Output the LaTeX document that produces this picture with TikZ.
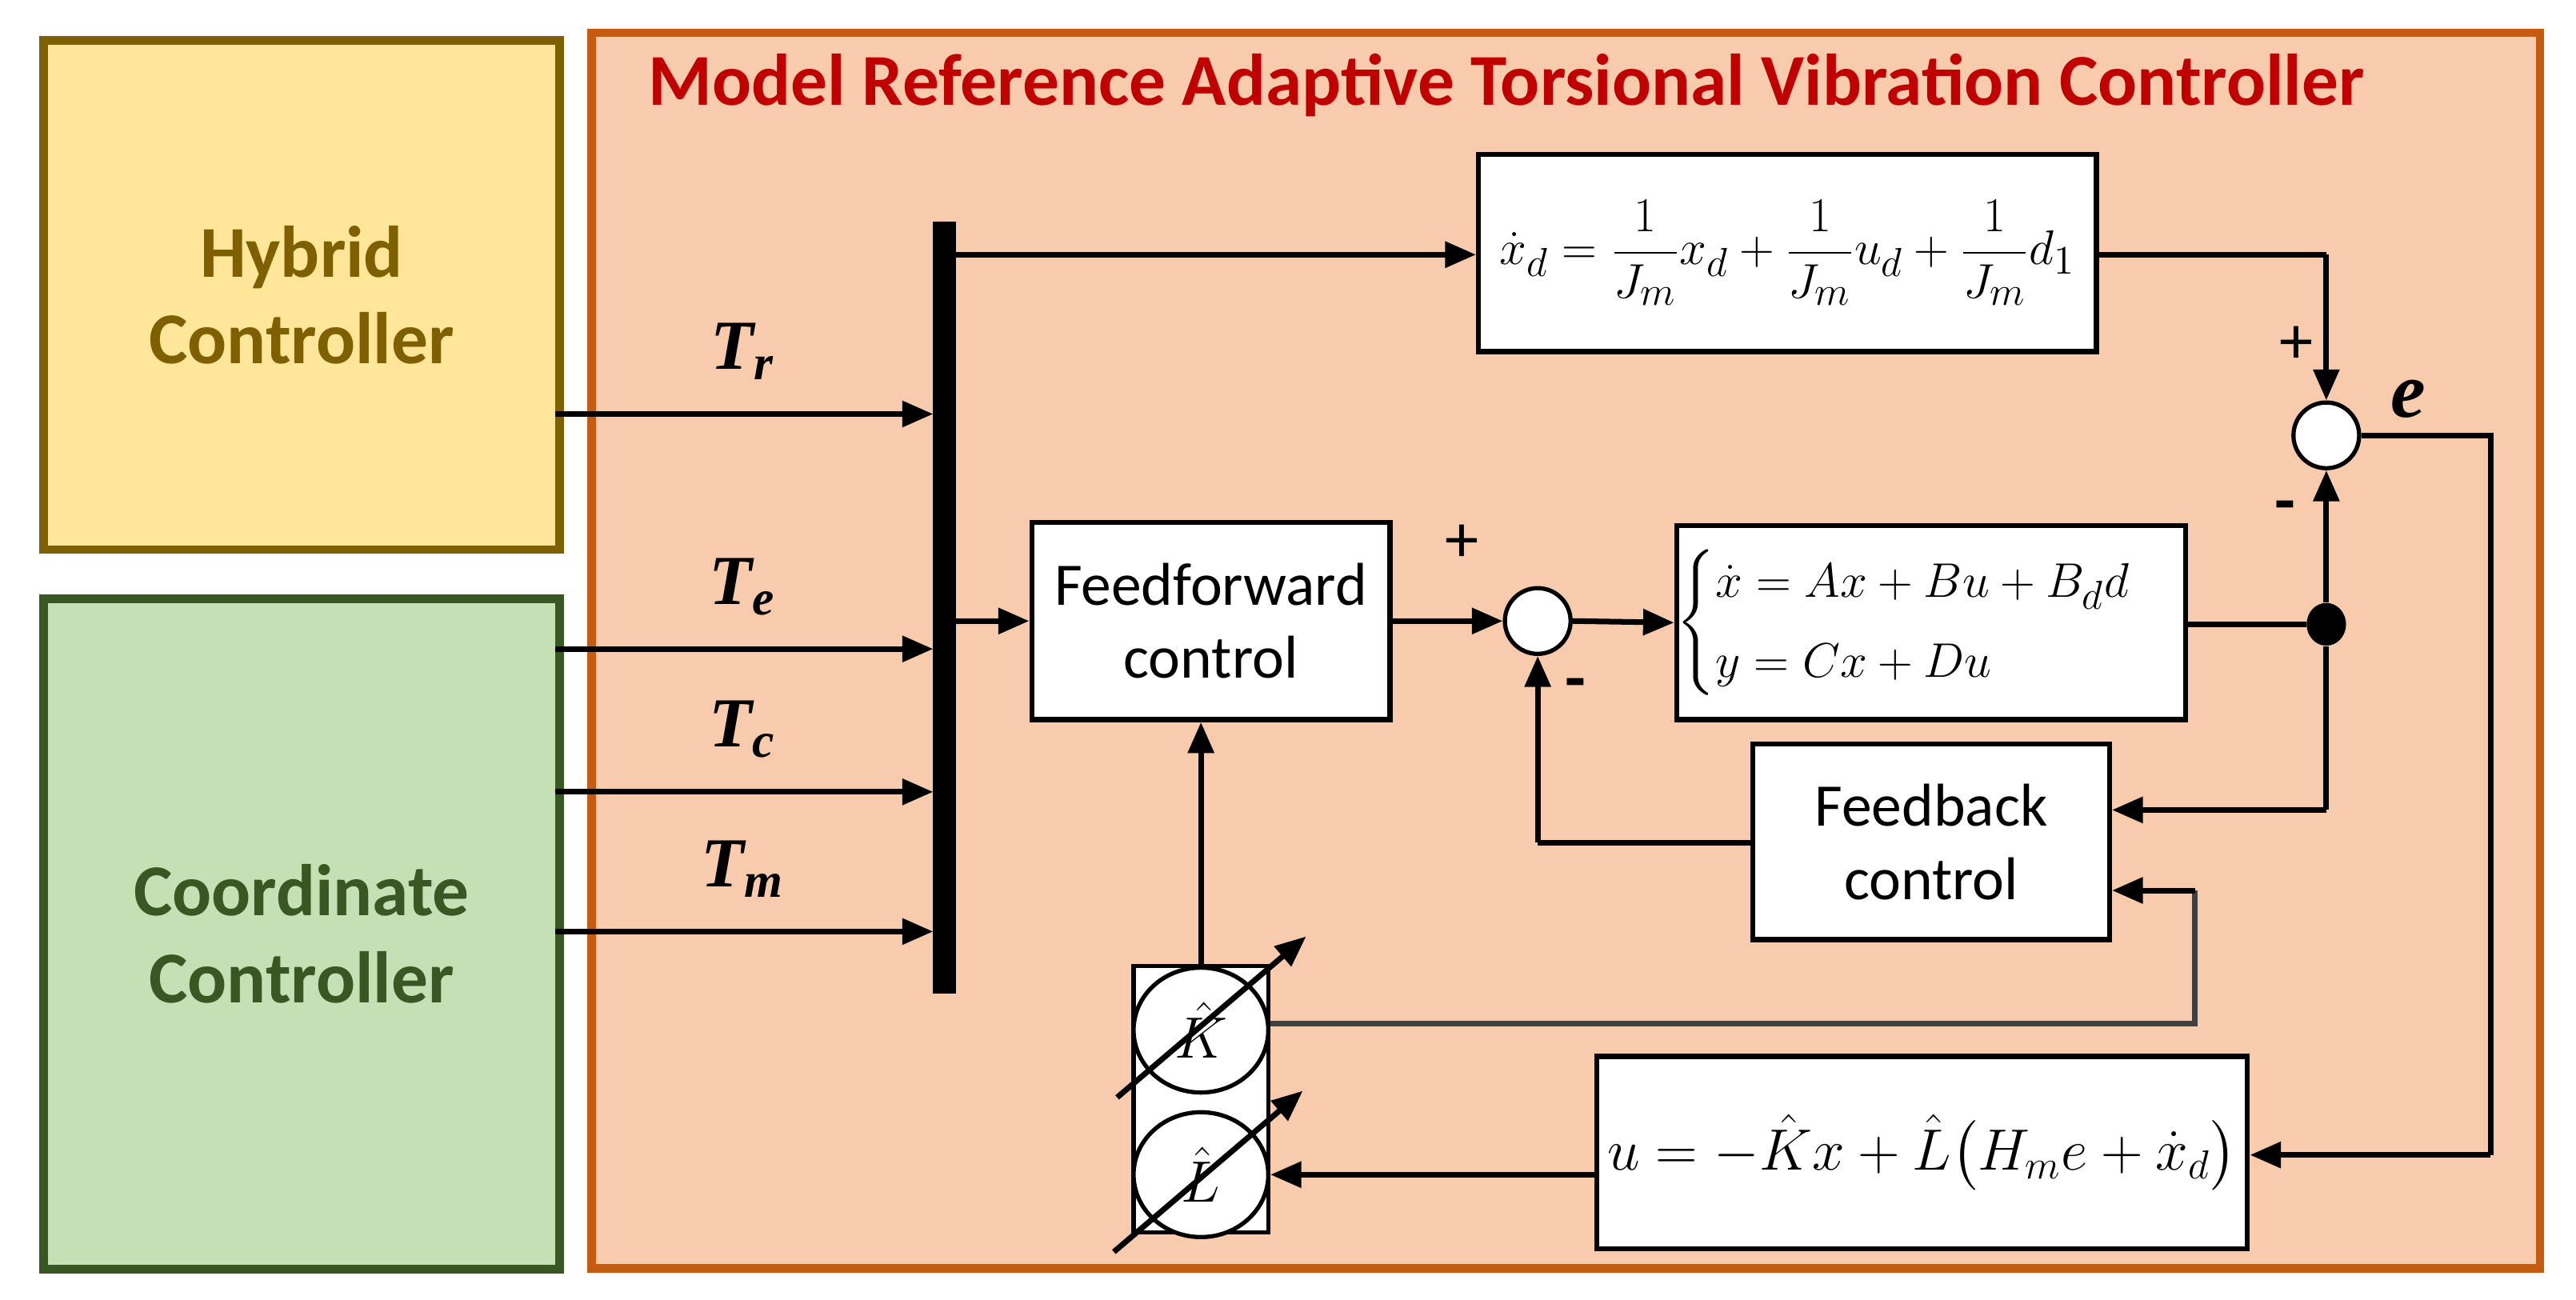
\documentclass[tikz,border=0pt]{standalone}
\usepackage{amsmath}
\usepackage{fontspec}
\setmainfont{Carlito}
\newfontfamily\tnr{Liberation Serif}
\usetikzlibrary{arrows.meta,shapes.geometric}
\definecolor{hyF}{HTML}{FFE699}\definecolor{hyD}{HTML}{7F6000}
\definecolor{coF}{HTML}{C5E0B4}\definecolor{coD}{HTML}{385723}
\definecolor{orF}{HTML}{F8CBAD}\definecolor{orD}{HTML}{C55A11}
\definecolor{ttl}{HTML}{C00000}
\begin{document}
\begin{tikzpicture}[x=0.020536cm,y=-0.020536cm,
  blk/.style={draw=black,line width=1.8pt,fill=white,inner sep=0pt},
  ar/.style={line width=2pt,-{Triangle[length=11pt,width=9pt]}},
  ln/.style={line width=2pt}]
\useasboundingbox (0,0) rectangle (1568,791.3);
\fill[white] (0,0) rectangle (1568,791.3);
% left boxes
\node[draw=hyD,line width=3pt,fill=hyF,minimum width=314*0.020536cm,minimum height=310*0.020536cm,anchor=north west,align=center,text=hyD,font=\fontsize{26}{31}\selectfont\bfseries] (hy) at (24,22) {Hybrid\\Controller};
\node[draw=coD,line width=3pt,fill=coF,minimum width=314*0.020536cm,minimum height=408*0.020536cm,anchor=north west,align=center,text=coD,font=\fontsize{26}{31}\selectfont\bfseries] (co) at (24,362) {Coordinate\\Controller};
% main box
\draw[draw=orD,line width=3pt,fill=orF] (360,20) rectangle (1546,772);
\node[text=ttl,font=\fontsize{26}{30}\selectfont\bfseries] (title) at (917,52) {Model Reference Adaptive Torsional Vibration Controller};
% bus
\node[fill=black,minimum width=14*0.020536cm,minimum height=470*0.020536cm,inner sep=0pt] (bus) at (575,370) {};
% inputs
\foreach \yy/\nm/\lb in {252/r/{r},395/e/{e},482/c/{c},567/m/{m}}{
  \coordinate (s\nm) at (338,\yy);
  \coordinate (b\nm) at (568,\yy);
  \draw[ar] (s\nm) -- (b\nm);
  \node[font=\tnr\fontsize{25}{27}\selectfont\bfseries\itshape] (l\nm) at (452,\yy-38) {T\textsubscript{\lb}};
}
% top model box
\node[blk,minimum width=376*0.020536cm,minimum height=120*0.020536cm,font=\fontsize{19}{22}\selectfont] (mod) at (1088,154) {$\dot{x}_d=\dfrac{1}{J_m}x_d+\dfrac{1}{J_m}u_d+\dfrac{1}{J_m}d_1$};
\coordinate (bt) at (582,155);
\draw[ar] (bt) -- (bt-|mod.west);
% sum 1
\node[draw=black,line width=1.5pt,fill=white,circle,minimum size=40*0.020536cm,inner sep=0pt] (s1) at (1416,265) {};
\coordinate (c1) at (1416,155);
\draw[ln] (mod.east|-c1) -- (c1);
\draw[ar] (c1) -- (s1.north);
\node[font=\fontsize{24}{24}\selectfont] (p1) at (1398,210) {+};
\node[font=\fontsize{24}{24}\selectfont\bfseries] (m1) at (1391,312) {-};
\node[font=\tnr\fontsize{28}{28}\selectfont\bfseries\itshape] (el) at (1466,243) {e};
% feedforward
\node[blk,minimum width=218*0.020536cm,minimum height=120*0.020536cm,align=center,font=\fontsize{21.5}{26}\selectfont] (ff) at (737,378) {Feedforward\\control};
\coordinate (bf) at (582,378);
\draw[ar] (bf) -- (ff.west);
% sum 2
\node[draw=black,line width=1.5pt,fill=white,circle,minimum size=40*0.020536cm,inner sep=0pt] (s2) at (936,378) {};
\draw[ar] (ff.east) -- (s2.west);
\node[font=\fontsize{24}{24}\selectfont] (p2) at (890,331) {+};
\node[font=\fontsize{24}{24}\selectfont\bfseries] (m2) at (959,420) {-};
% plant
\node[blk,minimum width=305*0.020536cm,minimum height=118*0.020536cm,font=\fontsize{19}{22}\selectfont] (pl) at (1175.5,379) {$\begin{cases}\dot{x}=Ax+Bu+B_d d\\[2pt] y=Cx+Du\end{cases}$};
\draw[ar] (s2.east) -- (pl.west);
\node[fill=black,ellipse,minimum width=24*0.020536cm,minimum height=26*0.020536cm,inner sep=0pt] (dot) at (1416,380) {};
\draw[ln] (pl.east|-dot) -- (dot);
\draw[ar] (dot) -- (s1.south);
% feedback
\node[blk,minimum width=217*0.020536cm,minimum height=119*0.020536cm,align=center,font=\fontsize{21.5}{26}\selectfont] (fb) at (1175.5,512.5) {Feedback\\control};
\coordinate (c2) at (1416,493);
\draw[ln] (dot) -- (c2);
\draw[ar] (c2) -- (c2-|fb.east);
\coordinate (c3) at (936,513);
\draw[ln] (fb.west|-c3) -- (c3);
\draw[ar] (c3) -- (s2.south);
% e path
\node[blk,minimum width=396*0.020536cm,minimum height=117*0.020536cm,font=\fontsize{19.5}{22}\selectfont] (ub) at (1170,701.5) {$u=-\hat{K}x+\hat{L}\big(H_m e+\dot{x}_d\big)$};
\coordinate (e1) at (1516,265);
\coordinate (e2) at (1516,703);
\draw[ln] (s1.east) -- (e1) -- (e2);
\draw[ar] (e2) -- (e2-|ub.east);
% K L block
\draw[line width=1.5pt,fill=white] (690,588) rectangle (772,750);
\node[draw=black,line width=1.5pt,fill=white,ellipse,minimum width=82*0.020536cm,minimum height=76*0.020536cm,inner sep=0pt,font=\fontsize{20}{22}\selectfont] (K) at (731,627) {$\hat{K}$};
\node[draw=black,line width=1.5pt,fill=white,ellipse,minimum width=82*0.020536cm,minimum height=76*0.020536cm,inner sep=0pt,font=\fontsize{20}{22}\selectfont] (L) at (731,715) {$\hat{L}$};
\draw[ar] (K.north) -- (K.north|-ff.south);
\coordinate (dk1) at (680,668); \coordinate (dk2) at (795,570);
\coordinate (dl1) at (678,762); \coordinate (dl2) at (793,664);
\draw[ar] (dk1) -- (dk2);
\draw[ar] (dl1) -- (dl2);
\coordinate (k1) at (1336,623);
\coordinate (k2) at (1336,542);
\draw[line width=2pt,draw=black!75] (K.east|-k1) -- (k1) -- (k2);
\draw[ar] (k2) -- (k2-|fb.east);
\draw[ar] (ub.west|-L.east) -- (L.east);
\end{tikzpicture}
\end{document}
